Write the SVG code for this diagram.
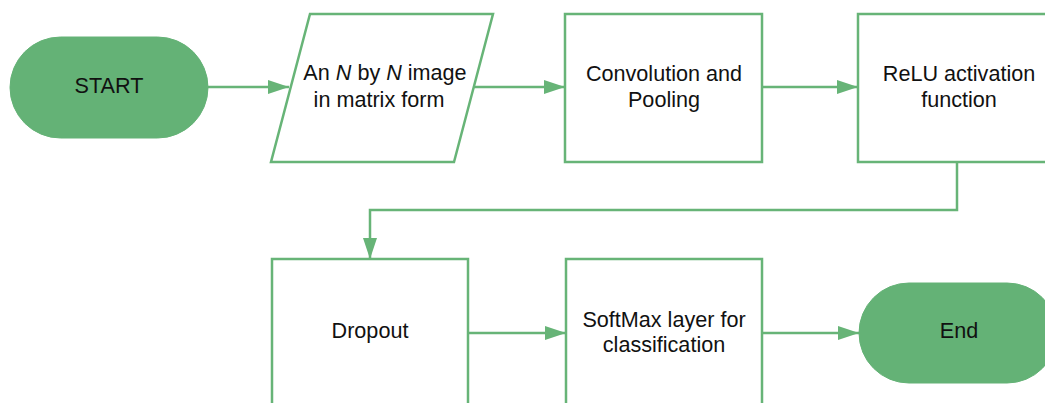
<svg xmlns="http://www.w3.org/2000/svg" width="1045" height="403" viewBox="0 0 1045 403">
<style>
.box{fill:#ffffff;stroke:#67b477;stroke-width:2.5}
.term{fill:#64b276;stroke:#64b276;stroke-width:1}
.t{font-family:"Liberation Sans",Arial,sans-serif;font-size:21.6px;fill:#111111;text-anchor:middle}
.c{fill:none;stroke:#67b477;stroke-width:2.5}
</style>
<defs>
<marker id="ah" markerWidth="21" markerHeight="14" viewBox="0 0 21 14" refX="21" refY="7" orient="auto" markerUnits="userSpaceOnUse">
<path d="M0,0 L21,7 L0,14 Z" fill="#67b477"/>
</marker>
</defs>
<rect width="1045" height="403" fill="#ffffff"/>
<g id="connectors">
<line class="c" x1="208" y1="87" x2="289" y2="87" marker-end="url(#ah)"/>
<line class="c" x1="474" y1="87" x2="565" y2="87" marker-end="url(#ah)"/>
<line class="c" x1="762" y1="87" x2="858" y2="87" marker-end="url(#ah)"/>
<polyline class="c" points="957,162 957,210 370,210 370,259" marker-end="url(#ah)"/>
<line class="c" x1="468" y1="333" x2="566" y2="333" marker-end="url(#ah)"/>
<line class="c" x1="762" y1="333" x2="859" y2="333" marker-end="url(#ah)"/>
</g>
<g id="start">
<rect class="term" x="10" y="37" width="198" height="101" rx="50.5" ry="50.5"/>
<text class="t" x="109" y="93">START</text>
</g>
<g id="input">
<polygon class="box" points="310,14 493,14 454,162 271,162"/>
<text class="t" x="385" y="80">An <tspan font-style="italic">N</tspan> by <tspan font-style="italic">N</tspan> image</text>
<text class="t" x="379" y="107">in matrix form</text>
</g>
<g id="conv">
<rect class="box" x="565" y="14" width="197" height="148"/>
<text class="t" x="664" y="81">Convolution and</text>
<text class="t" x="664" y="107">Pooling</text>
</g>
<g id="relu">
<rect class="box" x="858" y="14" width="197" height="148"/>
<text class="t" x="959" y="81">ReLU activation</text>
<text class="t" x="959" y="107">function</text>
</g>
<g id="dropout">
<rect class="box" x="272" y="259" width="196" height="148"/>
<text class="t" x="370" y="338">Dropout</text>
</g>
<g id="softmax">
<rect class="box" x="566" y="259" width="196" height="148"/>
<text class="t" x="664" y="327">SoftMax layer for</text>
<text class="t" x="664" y="352">classification</text>
</g>
<g id="end">
<rect class="term" x="859" y="283" width="198" height="100" rx="50" ry="50"/>
<text class="t" x="959" y="338">End</text>
</g>
</svg>
